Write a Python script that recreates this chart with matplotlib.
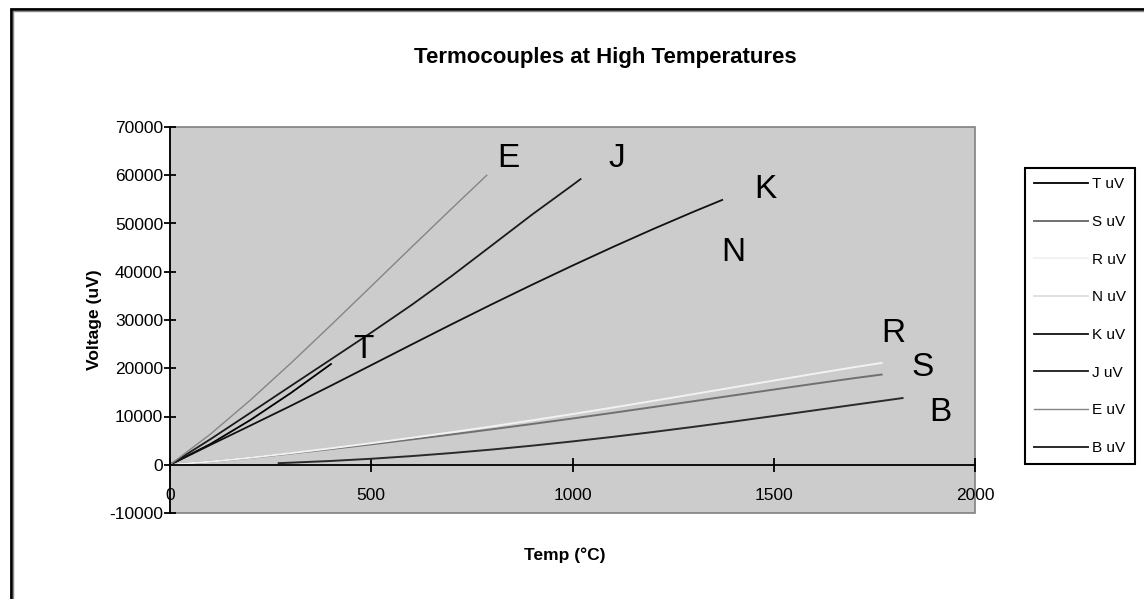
import matplotlib
matplotlib.use("Agg")
import matplotlib.pyplot as plt
from matplotlib.patches import Rectangle

plt.rcParams['font.family'] = ['Liberation Sans', 'DejaVu Sans']

# ---- data (temperature in degC, voltage in uV) ----
t_temp = [0, 100, 200, 300, 400]
t_uv = [0, 4279, 9288, 14862, 20872]

s_temp = [0, 100, 200, 300, 400, 500, 600, 700, 800, 900, 1000, 1100, 1200, 1300, 1400, 1500, 1600, 1700, 1768]
s_uv = [0, 646, 1441, 2323, 3259, 4233, 5239, 6275, 7345, 8449, 9587, 10757, 11951, 13159, 14373, 15582, 16777, 17947, 18693]

r_temp = [0, 100, 200, 300, 400, 500, 600, 700, 800, 900, 1000, 1100, 1200, 1300, 1400, 1500, 1600, 1700, 1768]
r_uv = [0, 647, 1469, 2401, 3408, 4471, 5583, 6743, 7950, 9205, 10506, 11850, 13228, 14629, 16040, 17451, 18849, 20222, 21101]

n_temp = []
n_uv = []

k_temp = [0, 100, 200, 300, 400, 500, 600, 700, 800, 900, 1000, 1100, 1200, 1300, 1372]
k_uv = [0, 4096, 8138, 12209, 16397, 20644, 24905, 29129, 33275, 37326, 41276, 45119, 48838, 52410, 54886]

j_temp = [0, 100, 200, 300, 400, 500, 600, 700, 800, 900, 1000, 1020]
j_uv = [0, 5269, 10779, 16327, 21848, 27393, 33102, 39132, 45494, 51877, 57953, 59200]

e_temp = [0, 100, 200, 300, 400, 500, 600, 700, 787]
e_uv = [0, 6319, 13421, 21036, 28946, 36999, 45085, 53110, 60000]

b_temp = [270, 300, 400, 500, 600, 700, 800, 900, 1000, 1100, 1200, 1300, 1400, 1500, 1600, 1700, 1800, 1820]
b_uv = [330, 431, 787, 1242, 1792, 2431, 3154, 3957, 4834, 5780, 6786, 7848, 8956, 10099, 11263, 12433, 13591, 13820]

series_names = ["T uV", "S uV", "R uV", "N uV", "K uV", "J uV", "E uV", "B uV"]

curve_letters = ["E", "J", "K", "N", "T", "R", "S", "B"]
letter_x = [840, 1110, 1478, 1399, 480, 1796, 1871, 1913]
letter_y = [63500, 63500, 57000, 43900, 23800, 27300, 20100, 10800]

x_ticks = [0, 500, 1000, 1500, 2000]
y_ticks = [-10000, 0, 10000, 20000, 30000, 40000, 50000, 60000, 70000]

# ---- figure ----
fig = plt.figure(figsize=(11.44, 5.99), dpi=100)
fig.patch.set_facecolor('white')

# outer chart frame
fig.patches.append(Rectangle((11 / 1144, -0.2), 1.5, 1 - 9 / 599 + 0.2, transform=fig.transFigure,
                             fill=False, edgecolor='black', linewidth=2.0, zorder=0))
fig.patches.append(Rectangle((13 / 1144, -0.2), 1.5, 1 - 11 / 599 + 0.2, transform=fig.transFigure,
                             fill=False, edgecolor='#888888', linewidth=1.0, zorder=0))

ax = fig.add_axes([170 / 1144, 1 - 513 / 599, (975 - 170) / 1144, (513 - 127) / 599])
ax.set_facecolor('#cccccc')

colors = ['#000000', '#707070', '#f2f2f2', '#dcdcdc', '#111111', '#1a1a1a', '#858585', '#2a2a2a']
widths = [1.3, 1.4, 1.4, 1.3, 1.3, 1.3, 1.0, 1.4]
data = [(t_temp, t_uv), (s_temp, s_uv), (r_temp, r_uv), (n_temp, n_uv),
        (k_temp, k_uv), (j_temp, j_uv), (e_temp, e_uv), (b_temp, b_uv)]
for (xs, ys), name, c, w in zip(data, series_names, colors, widths):
    ax.plot(xs, ys, color=c, linewidth=w, label=name)

for lt, lx, ly in zip(curve_letters, letter_x, letter_y):
    ax.text(lx, ly, lt, fontsize=24, ha='center', va='center', color='black')

ax.set_xlim(0, 2000)
ax.set_ylim(-10000, 70000)
ax.set_xticks(x_ticks)
ax.set_yticks(y_ticks)
ax.set_xticklabels([str(v) for v in x_ticks])
ax.set_yticklabels([str(v) for v in y_ticks])

# plot-area border (gray) and axes
ax.add_patch(Rectangle((0, 0), 1, 1, transform=ax.transAxes, fill=False,
                       edgecolor='#808080', linewidth=1.2, zorder=0.5, clip_on=False))
for s in ['top', 'right']:
    ax.spines[s].set_visible(False)
ax.spines['left'].set_color('black')
ax.spines['left'].set_linewidth(1.3)
ax.spines['bottom'].set_position(('data', 0))
ax.spines['bottom'].set_color('black')
ax.spines['bottom'].set_linewidth(1.3)

ax.tick_params(axis='x', direction='inout', length=10, width=1.3, pad=12,
               labelsize=12.5, colors='black')
ax.tick_params(axis='y', direction='inout', length=8, width=1.3, pad=1,
               labelsize=12.5, colors='black')

fig.text(605 / 1144, 1 - 58 / 599, "Termocouples at High Temperatures", fontsize=16,
         fontweight='bold', ha='center', va='center')

fig.text(565 / 1144, 1 - 555 / 599, "Temp (°C)", fontsize=12.5, fontweight='bold',
         ha='center', va='center')
fig.text(95 / 1144, 1 - 320 / 599, "Voltage (uV)", fontsize=12.5, fontweight='bold',
         ha='center', va='center', rotation=90)

leg = ax.legend(loc='upper left', bbox_to_anchor=(1025 / 1144, 1 - 168 / 599),
                bbox_transform=fig.transFigure, frameon=True, fancybox=False,
                fontsize=11, handlelength=3.5, handletextpad=0.3, labelspacing=1.55,
                borderpad=0.6, borderaxespad=0)
leg.get_frame().set_edgecolor('black')
leg.get_frame().set_linewidth(1.5)
leg.get_frame().set_facecolor('white')
leg.get_frame().set_alpha(1)

fig.savefig("out.png", dpi=100)
